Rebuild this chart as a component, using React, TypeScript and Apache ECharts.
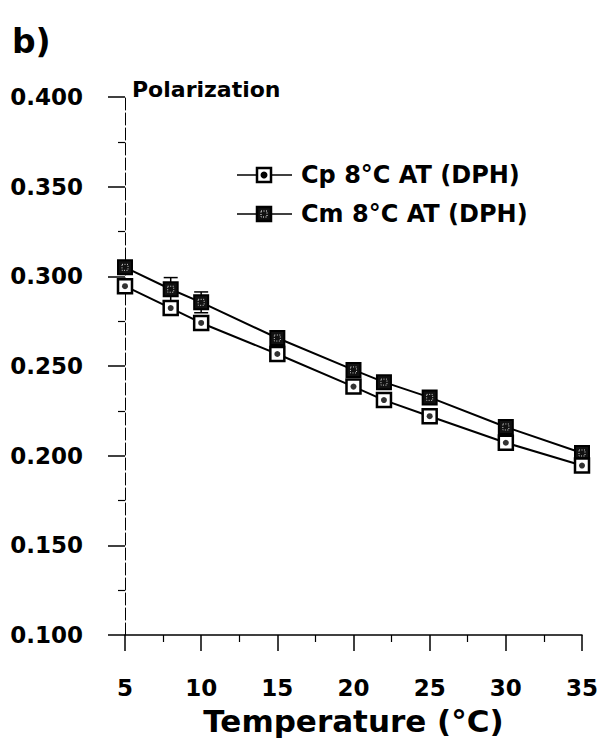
import React, { useEffect, useRef } from "react";
import * as echarts from "echarts";

const temperatures = [5, 8, 10, 15, 20, 22, 25, 30, 35];
const cpValues = [0.2945, 0.2823, 0.274, 0.2567, 0.2385, 0.231, 0.222, 0.2072, 0.1945];
const cmValues = [0.305, 0.2928, 0.2855, 0.2656, 0.2478, 0.241, 0.2325, 0.216, 0.2015];
const cpErrors = [0.003, 0.003, 0.004, 0.002, 0.003, 0.003, 0.003, 0.002, 0.002];
const cmErrors = [0.003, 0.0065, 0.0058, 0.003, 0.003, 0.003, 0.003, 0.003, 0.003];
const cpLabel = "Cp 8°C AT (DPH)";
const cmLabel = "Cm 8°C AT (DPH)";

const FONT = "'DejaVu Sans', 'Liberation Sans', sans-serif";

function pairs(xs: number[], ys: number[]) {
  return xs.map((x, i) => [x, ys[i]]);
}

function errorSeries(ys: number[], errs: number[]) {
  return {
    type: "custom",
    z: 1,
    silent: true,
    data: temperatures.map((x, i) => [x, ys[i], errs[i]]),
    renderItem: (_params: any, api: any) => {
      const x = api.value(0);
      const y = api.value(1);
      const e = api.value(2);
      const top = api.coord([x, y + e]);
      const bot = api.coord([x, y - e]);
      const style = { stroke: "#000", lineWidth: 1.5 };
      return {
        type: "group",
        children: [
          { type: "line", shape: { x1: top[0], y1: top[1], x2: bot[0], y2: bot[1] }, style },
          { type: "line", shape: { x1: top[0] - 7, y1: top[1], x2: top[0] + 7, y2: top[1] }, style },
          { type: "line", shape: { x1: bot[0] - 7, y1: bot[1], x2: bot[0] + 7, y2: bot[1] }, style },
        ],
      };
    },
  };
}

export default function App() {
  const ref = useRef<HTMLDivElement>(null);

  useEffect(() => {
    if (!ref.current) return;
    const chart = echarts.init(ref.current, undefined, { renderer: "svg" });

    const legendRow = (y: number, filled: boolean, label: string) => {
      const children: any[] = [
        { type: "line", shape: { x1: 237, y1: y, x2: 292, y2: y }, style: { stroke: "#000", lineWidth: 1.5 } },
        {
          type: "rect",
          shape: { x: 257, y: y - 7, width: 14, height: 14 },
          style: { fill: filled ? "#111" : "#fff", stroke: "#000", lineWidth: 2.5 },
        },
      ];
      if (filled) {
        children.push({
          type: "rect",
          shape: { x: 261, y: y - 3, width: 6, height: 6 },
          style: { fill: "none", stroke: "#fff", lineWidth: 1, lineDash: [1, 1.5] },
        });
      } else {
        children.push({ type: "circle", shape: { cx: 264, cy: y, r: 3.5 }, style: { fill: "#000" } });
      }
      children.push({
        type: "text",
        x: 301,
        y,
        style: {
          text: label,
          font: `bold 24px ${FONT}`,
          fill: "#000",
          textVerticalAlign: "middle",
          textAlign: "left",
        },
      });
      return { type: "group", children };
    };

    chart.setOption({
      animation: false,
      backgroundColor: "#fff",
      title: {
        text: "b)",
        left: 7,
        top: 20,
        textStyle: { fontFamily: FONT, fontWeight: "bold", fontSize: 33, color: "#000" },
      },
      grid: { left: 125, right: 15, top: 97, bottom: 106 },
      xAxis: {
        type: "value",
        min: 5,
        max: 35,
        interval: 5,
        name: "Temperature (°C)",
        nameLocation: "middle",
        nameGap: 70,
        nameTextStyle: { fontFamily: FONT, fontWeight: "bold", fontSize: 31, color: "#000" },
        axisLine: { lineStyle: { color: "#000", width: 1.5 } },
        axisTick: { show: true, inside: false, length: 16, lineStyle: { color: "#000", width: 1.5 } },
        minorTick: { show: true, splitNumber: 2, length: 7, lineStyle: { color: "#000", width: 1.2 } },
        axisLabel: {
          margin: 41,
          fontFamily: FONT,
          fontWeight: "bold",
          fontSize: 23,
          color: "#000",
        },
        splitLine: { show: false },
      },
      yAxis: {
        type: "value",
        min: 0.1,
        max: 0.4,
        interval: 0.05,
        name: "Polarization",
        nameLocation: "end",
        nameGap: -3,
        nameTextStyle: {
          fontFamily: FONT,
          fontWeight: "bold",
          fontSize: 22,
          color: "#000",
          align: "left",
          verticalAlign: "bottom",
          padding: [0, 0, 0, 7],
        },
        axisLine: { lineStyle: { color: "#000", width: 1, type: [12, 3] } },
        axisTick: { show: true, inside: false, length: 17, lineStyle: { color: "#000", width: 1.5 } },
        minorTick: { show: true, splitNumber: 2, length: 7, lineStyle: { color: "#000", width: 1.2 } },
        axisLabel: {
          margin: 42,
          fontFamily: FONT,
          fontWeight: "bold",
          fontSize: 23,
          color: "#000",
          formatter: (v: number) => v.toFixed(3),
        },
        splitLine: { show: false },
      },
      series: [
        errorSeries(cmValues, cmErrors),
        errorSeries(cpValues, cpErrors),
        {
          name: cmLabel,
          type: "line",
          z: 2,
          data: pairs(temperatures, cmValues),
          symbol: "rect",
          symbolSize: 14,
          lineStyle: { color: "#000", width: 2 },
          itemStyle: { color: "#111", borderColor: "#000", borderWidth: 2 },
        },
        {
          name: cmLabel + " inner",
          type: "scatter",
          z: 3,
          silent: true,
          data: pairs(temperatures, cmValues),
          symbol: "rect",
          symbolSize: 6,
          itemStyle: { color: "transparent", borderColor: "#fff", borderWidth: 1, borderType: [1, 1.5] },
        },
        {
          name: cpLabel,
          type: "line",
          z: 4,
          data: pairs(temperatures, cpValues),
          symbol: "rect",
          symbolSize: 14,
          lineStyle: { color: "#000", width: 2 },
          itemStyle: { color: "#fff", borderColor: "#000", borderWidth: 2.5 },
        },
        {
          name: cpLabel + " dot",
          type: "scatter",
          z: 5,
          silent: true,
          data: pairs(temperatures, cpValues),
          symbol: "circle",
          symbolSize: 6,
          itemStyle: { color: "#000" },
        },
      ],
      graphic: [legendRow(175, false, cpLabel), legendRow(214, true, cmLabel)],
    });

    return () => chart.dispose();
  }, []);

  return <div ref={ref} style={{ position: "fixed", left: 0, top: 0, width: 601, height: 741 }} />;
}
